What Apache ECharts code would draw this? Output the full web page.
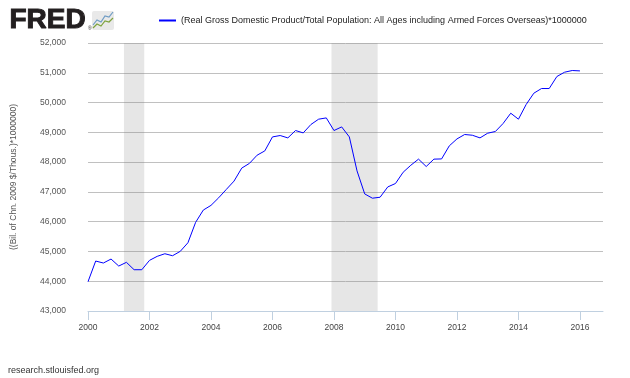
<!DOCTYPE html>
<html>
<head>
<meta charset="utf-8">
<script src="https://cdn.jsdelivr.net/npm/echarts@6/dist/echarts.min.js"></script>
<style>
  html, body { margin: 0; padding: 0; background: #fff; }
  #main { width: 630px; height: 378px; }
</style>
</head>
<body>
<div id="main"></div>
<script>
var dom = document.getElementById('main');
var myChart = echarts.init(dom, null, { renderer: 'canvas' });

// quarterly, starting 2000 Q1
const startYear = 2000;
const gdpPerCapita = [
  43983, 44678, 44611, 44745, 44510, 44634, 44386, 44386,
  44700, 44835, 44923, 44856, 45003, 45292, 45977, 46390,
  46547, 46802, 47084, 47363, 47799, 47957, 48232, 48376,
  48846, 48893, 48813, 49061, 48981, 49263, 49441, 49485,
  49061, 49182, 48846, 47705, 46932, 46788, 46821, 47167,
  47281, 47660, 47895, 48100, 47852, 48100, 48107, 48545,
  48779, 48927, 48903, 48813, 48971, 49028, 49296, 49642,
  49441, 49934, 50314, 50471, 50471, 50875, 51019, 51076,
  51063
];
// recession periods in decimal years (Mar 2001 - Nov 2001, Dec 2007 - Jun 2009)
const recessions = [[2001.17, 2001.83], [2007.92, 2009.42]];
const yearTicks = [2000, 2002, 2004, 2006, 2008, 2010, 2012, 2014, 2016];

const seriesName = '(Real Gross Domestic Product/Total Population: All Ages including Armed Forces Overseas)*1000000';
const font = 'Liberation Sans';

const lineData = gdpPerCapita.map((v, i) => [startYear + i / 4, v]);

var option = {
  animation: false,
  textStyle: { fontFamily: font },
  grid: { left: 88, right: 27, top: 43, bottom: 67 },
  legend: {
    left: 154,
    top: 11,
    itemWidth: 17,
    itemHeight: 2,
    itemGap: 5,
    icon: 'rect',
    textStyle: { fontSize: 9, color: '#222', fontFamily: font },
    data: [seriesName]
  },
  xAxis: {
    type: 'value',
    min: 2000,
    max: 2016.75,
    interval: 2,
    axisLine: { lineStyle: { color: '#c0d0e0', width: 1 } },
    axisTick: { length: 9, lineStyle: { color: '#c0d0e0' }, customValues: yearTicks },
    axisLabel: {
      customValues: yearTicks,
      margin: 12,
      fontSize: 8.5,
      color: '#444',
      formatter: v => String(v)
    },
    splitLine: { show: false }
  },
  yAxis: {
    type: 'value',
    min: 43000,
    max: 52000,
    interval: 1000,
    name: '((Bil. of Chn. 2009 $/Thous.)*1000000)',
    nameLocation: 'middle',
    nameRotate: 90,
    nameGap: 70,
    nameTextStyle: { fontSize: 8.5, color: '#555' },
    axisLine: { show: false },
    axisTick: { show: false },
    axisLabel: {
      margin: 22,
      fontSize: 8.5,
      color: '#555',
      formatter: v => v.toLocaleString('en-US')
    },
    splitLine: { lineStyle: { color: '#c0c0c0', width: 1 } }
  },
  series: [
    {
      name: seriesName,
      type: 'line',
      data: lineData,
      showSymbol: false,
      color: '#0000ff',
      lineStyle: { width: 1, color: '#0000ff' },
      markArea: {
        silent: true,
        itemStyle: { color: 'rgba(128,128,128,0.2)' },
        data: recessions.map(r => [{ xAxis: r[0] }, { xAxis: r[1] }])
      }
    }
  ],
  graphic: [
    {
      type: 'text', left: 9, top: 6,
      style: { text: 'FRED', font: 'bold 28px "Liberation Sans"', fill: '#231f20', stroke: '#231f20', lineWidth: 1 }
    },
    {
      type: 'text', left: 88, top: 26,
      style: { text: '®', font: '5px "Liberation Sans"', fill: '#231f20' }
    },
    {
      type: 'rect', shape: { x: 92, y: 11, width: 22, height: 19, r: 2 },
      style: { fill: '#e9e9e9' }
    },
    {
      type: 'polyline',
      shape: { points: [[93, 25], [97, 20], [101, 22], [105, 16], [109, 17], [113, 12]] },
      style: { stroke: '#6f9cc4', lineWidth: 1.2, fill: null }
    },
    {
      type: 'polyline',
      shape: { points: [[93, 28], [97, 24], [101, 26], [105, 21], [109, 22], [113, 18]] },
      style: { stroke: '#7ea33e', lineWidth: 1.2, fill: null }
    },
    {
      type: 'text', left: 8, top: 366,
      style: { text: 'research.stlouisfed.org', font: '9px "Liberation Sans"', fill: '#333' }
    }
  ]
};

myChart.setOption(option);
window.addEventListener('resize', myChart.resize);
</script>
</body>
</html>
